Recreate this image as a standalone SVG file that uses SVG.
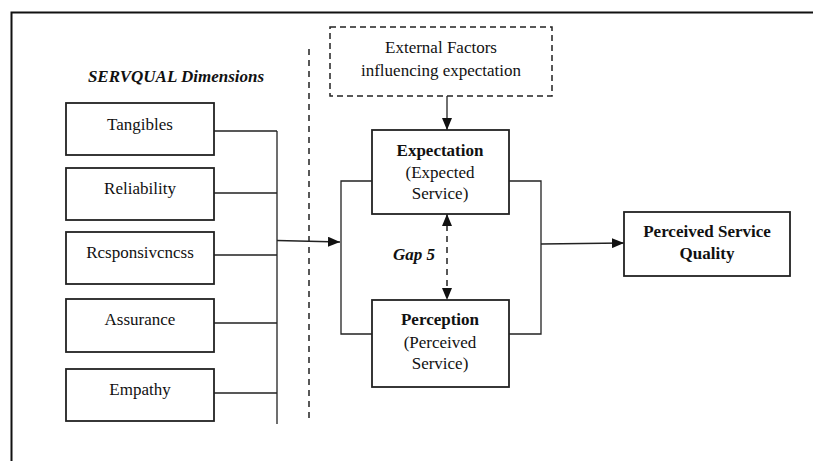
<svg xmlns="http://www.w3.org/2000/svg" width="813" height="461" viewBox="0 0 813 461">
<style>
  .box{fill:#fff;stroke:#222;stroke-width:1.8}
  .dbox{fill:#fff;stroke:#222;stroke-width:1.5;stroke-dasharray:6 4}
  .ln{fill:none;stroke:#222;stroke-width:1.3}
  .dln{fill:none;stroke:#222;stroke-width:1.5;stroke-dasharray:6 5}
  text{font-family:"Liberation Serif","Times New Roman",serif;font-size:17px;fill:#111;text-anchor:middle}
  .b{font-weight:bold}
  .bi{font-weight:bold;font-style:italic}
</style>
<defs>
  <marker id="ah" viewBox="0 0 12 10" refX="12" refY="5" markerWidth="12" markerHeight="10" markerUnits="userSpaceOnUse" orient="auto-start-reverse">
    <path d="M0,0 L12,5 L0,10 Z" fill="#111"/>
  </marker>
</defs>
<rect width="813" height="461" fill="#fff"/>
<path d="M11.5,461 V12.5 H813" fill="none" stroke="#111" stroke-width="2"/>
<text x="176" y="82" class="bi">SERVQUAL Dimensions</text>

<g id="connectors">
  <line class="dln" x1="309" y1="49" x2="309" y2="420"/>
  <path class="ln" d="M214,131 H277 M214,193 H277 M214,255 H277 M214,323 H277 M214,393 H277 M277,131 V424"/>
  <line class="ln" x1="277" y1="240.5" x2="340" y2="242" stroke-width="2" marker-end="url(#ah)"/>
  <line class="ln" x1="447" y1="96" x2="447" y2="130" stroke-width="1.8" marker-end="url(#ah)"/>
  <path class="ln" d="M372,181 H341 V334 H372 M509,181 H541 V334 H509"/>
  <line class="dln" x1="447" y1="214" x2="447" y2="300" stroke-dasharray="5 4" marker-start="url(#ah)" marker-end="url(#ah)"/>
  <line class="ln" x1="541" y1="244" x2="624" y2="243" stroke-width="2" marker-end="url(#ah)"/>
</g>

<g id="tangibles"><rect class="box" x="66" y="103" width="148" height="52"/><text x="140" y="130">Tangibles</text></g>
<g id="reliability"><rect class="box" x="66" y="168" width="148" height="52"/><text x="140" y="194">Reliability</text></g>
<g id="responsiveness"><rect class="box" x="66" y="232" width="148" height="52"/><text x="140" y="258">Rcsponsivcncss</text></g>
<g id="assurance"><rect class="box" x="66" y="299" width="148" height="53"/><text x="140" y="325">Assurance</text></g>
<g id="empathy"><rect class="box" x="66" y="369" width="148" height="52"/><text x="140" y="395">Empathy</text></g>

<g id="external"><rect class="dbox" x="330" y="27" width="222" height="69"/><text x="441" y="53">External Factors</text><text x="441" y="76">influencing expectation</text></g>

<g id="expectation"><rect class="box" x="372" y="130" width="137" height="84"/><text x="440" y="156" class="b">Expectation</text><text x="440" y="178">(Expected</text><text x="440" y="199">Service)</text></g>

<g id="perception"><rect class="box" x="372" y="300" width="137" height="87"/><text x="440" y="325" class="b">Perception</text><text x="440" y="348">(Perceived</text><text x="440" y="369">Service)</text></g>

<g id="gap5"><text x="414" y="260" class="bi">Gap 5</text></g>

<g id="quality"><rect class="box" x="624" y="212" width="166" height="64"/><text x="707" y="237" class="b">Perceived Service</text><text x="707" y="259" class="b">Quality</text></g>
</svg>
